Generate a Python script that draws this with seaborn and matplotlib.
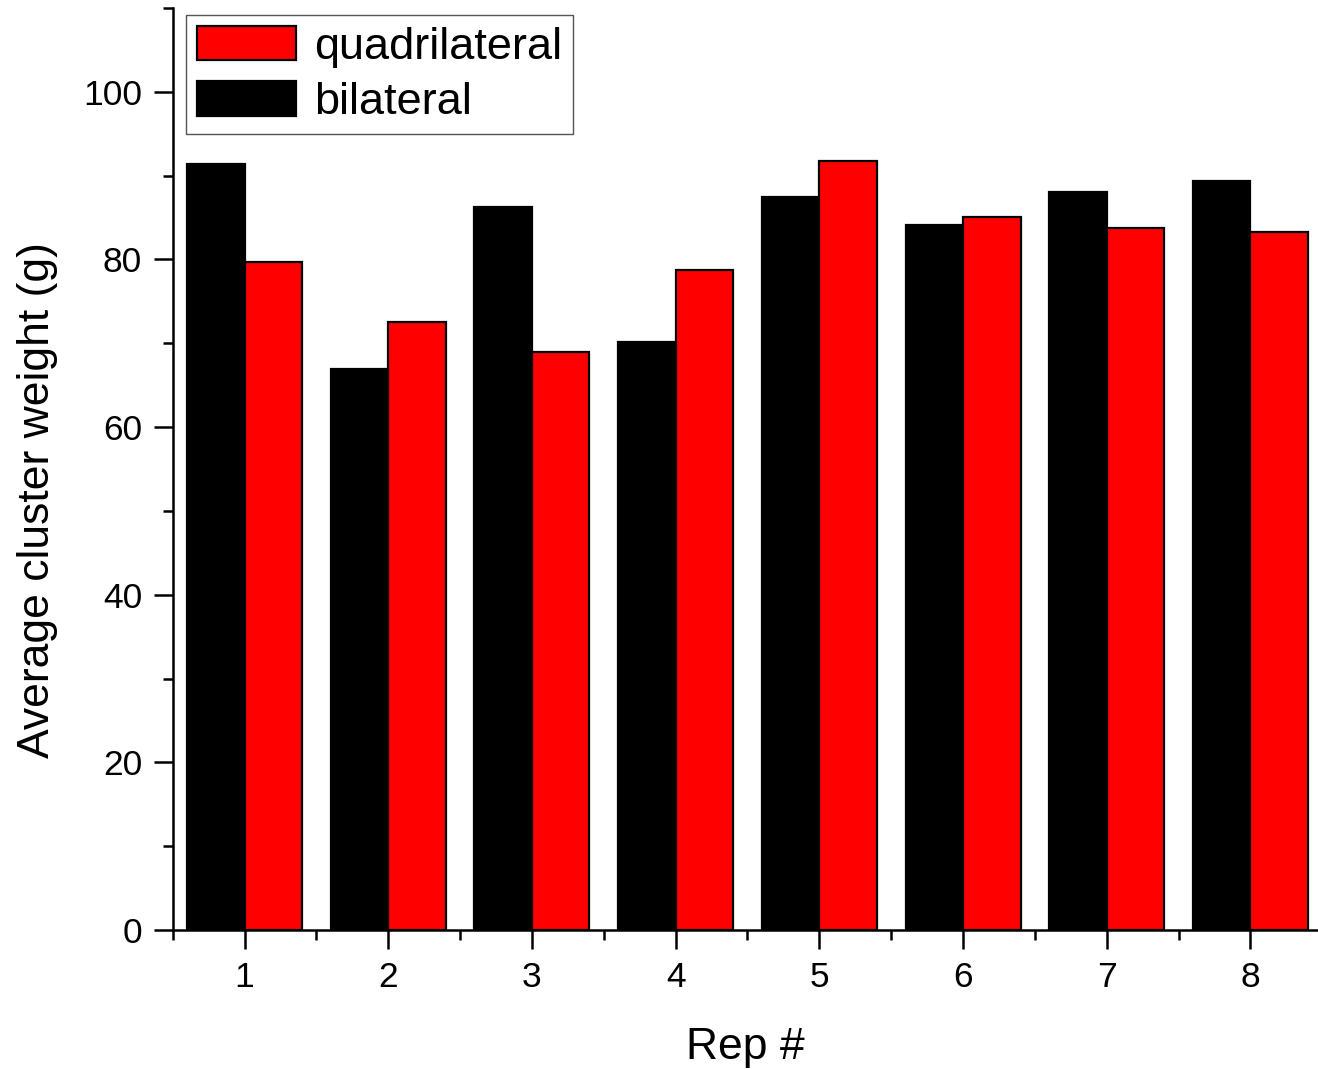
import matplotlib
matplotlib.use("Agg")
import matplotlib.pyplot as plt
from matplotlib.ticker import FixedLocator
import seaborn as sns
import pandas as pd

reps = ["1", "2", "3", "4", "5", "6", "7", "8"]
bilateral = [91.4, 66.9, 86.3, 70.1, 87.4, 84.1, 88.1, 89.4]
quadrilateral = [79.7, 72.6, 69.0, 78.7, 91.8, 85.1, 83.8, 83.3]

df = pd.DataFrame({
    "Rep": reps * 2,
    "weight": bilateral + quadrilateral,
    "group": ["bilateral"] * len(reps) + ["quadrilateral"] * len(reps),
})

sns.set_style("ticks")
plt.rcParams["font.family"] = ["Liberation Sans", "DejaVu Sans"]
plt.rcParams["text.color"] = "black"
plt.rcParams["axes.labelcolor"] = "black"

fig = plt.figure(figsize=(13.18, 10.69), dpi=100)
ax = fig.add_axes([0.131, 0.13, 0.869, 0.8625])

sns.barplot(
    data=df, x="Rep", y="weight", hue="group",
    hue_order=["bilateral", "quadrilateral"],
    palette={"bilateral": "black", "quadrilateral": "#ff0000"},
    saturation=1, edgecolor="black", linewidth=1.6, width=0.8, gap=0,
    errorbar=None, ax=ax,
)

ax.set_xlim(-0.5, 7.47)
ax.set_ylim(0, 110)
ax.yaxis.set_major_locator(FixedLocator([0, 20, 40, 60, 80, 100]))
ax.yaxis.set_minor_locator(FixedLocator([10, 30, 50, 70, 90, 110]))
ax.xaxis.set_minor_locator(FixedLocator([i - 0.5 for i in range(9)]))

for side in ("top", "right"):
    ax.spines[side].set_visible(False)
for side in ("left", "bottom"):
    ax.spines[side].set_linewidth(1.8)
    ax.spines[side].set_color("black")

ax.tick_params(which="major", direction="out", length=14, width=1.8,
               labelsize=25.5, colors="black", pad=8)
ax.tick_params(which="minor", direction="out", length=7, width=1.8, colors="black")

ax.set_xlabel("Rep #", fontsize=32, labelpad=24)
ax.set_ylabel("Average cluster weight (g)", fontsize=32)
ax.yaxis.set_label_coords(-0.100, 0.466)

handles, labels = ax.get_legend_handles_labels()
leg = ax.legend(
    handles[::-1], labels[::-1],
    loc="upper left", bbox_to_anchor=(0.141, 0.986), bbox_transform=fig.transFigure,
    fontsize=32.5, frameon=True, fancybox=False, edgecolor="#555555",
    framealpha=1, handlelength=2.2, handleheight=0.8, labelspacing=0.3,
    handletextpad=0.4, borderpad=0.24, borderaxespad=0,
)
leg.get_frame().set_linewidth(1.0)

fig.savefig("out.png", dpi=100)
